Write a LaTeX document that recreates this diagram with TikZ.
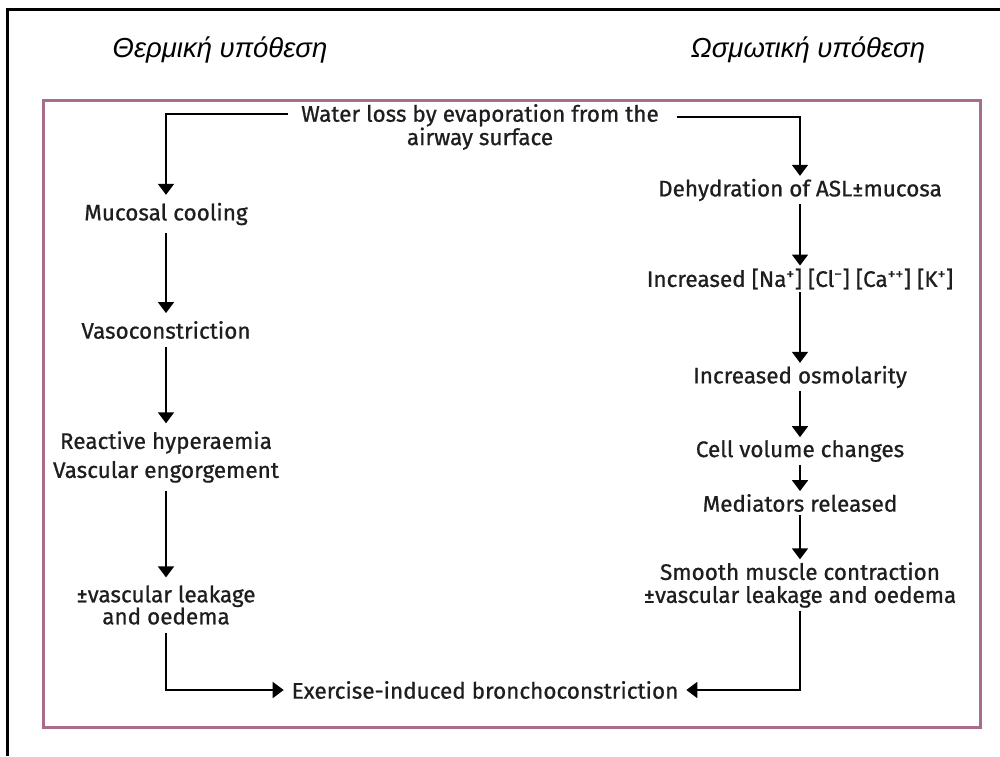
\documentclass[tikz,border=0pt]{standalone}
\usepackage{fontspec}
\setmainfont{Fira Sans}[FakeBold=0.8]
\newfontfamily\greekfont{Liberation Sans}
\usetikzlibrary{arrows.meta}
\definecolor{framecol}{RGB}{168,108,140}
\definecolor{txtcol}{RGB}{30,30,30}
\begin{document}
\begin{tikzpicture}[x=1pt,y=-1pt,
  every node/.style={inner sep=0pt,outer sep=5pt,font=\fontsize{22.5}{22}\selectfont,align=center,text=txtcol},
  lcol/.style={outer sep=8pt},
  rcol/.style={outer sep=3pt},
  title/.style={font=\greekfont\itshape\fontsize{27.5}{30}\selectfont,text=black},
  arr/.style={line width=1.8pt,-{Triangle[width=16pt,length=11pt]}}]
\useasboundingbox (0,0) rectangle (1000,756);
\draw[line width=3pt] (7,756) -- (7,9) -- (1000,9);
\draw[framecol,line width=3pt] (43,100) rectangle (980,727);
\node[title] (t1) at (220,50) {Θερμική υπόθεση};
\node[title] (t2) at (808,50) {Ωσμωτική υπόθεση};
\node (water) at (480,127) {Water loss by evaporation from the\\airway surface};
% left column
\node[lcol] (muc) at (166,214) {Mucosal cooling};
\node[lcol] (vaso) at (166,330) {Vasoconstriction};
\node[lcol,font=\fontsize{22.5}{29}\selectfont] (reac) at (166,457) {Reactive hyperaemia\\Vascular engorgement};
\node[lcol] (leak) at (166,605) {±vascular leakage\\and oedema};
% right column
\node[rcol] (dehy) at (800,190) {Dehydration of ASL±mucosa};
\node[rcol] (incr) at (800,279) {Increased [Na\textsuperscript{+}] [Cl\textsuperscript{−}] [Ca\textsuperscript{++}] [K\textsuperscript{+}]};
\node[rcol] (osmo) at (800,377) {Increased osmolarity};
\node[rcol] (cell) at (800,451) {Cell volume changes};
\node[rcol] (medi) at (800,503) {Mediators released};
\node[rcol,font=\fontsize{22.5}{23}\selectfont] (smooth) at (800,585) {Smooth muscle contraction\\±vascular leakage and oedema};
\node[outer sep=8pt] (exer) at (485,690) {Exercise-induced bronchoconstriction};
% connectors
\coordinate (wl) at (288,114);
\coordinate (wr) at (677,117);
\draw[arr] (wl) -| (muc);
\draw[arr] (wr) -| (dehy);
\draw[arr] (muc) -- (vaso);
\draw[arr] (vaso) -- (reac);
\draw[arr] (reac) -- (leak);
\draw[arr] (dehy) -- (incr);
\draw[arr] (incr) -- (osmo);
\draw[arr] (osmo) -- (cell);
\draw[arr] (cell) -- (medi);
\draw[arr] (medi) -- (smooth);
\draw[arr] (leak) |- (exer);
\draw[arr] (smooth) |- (exer);
\end{tikzpicture}
\end{document}
